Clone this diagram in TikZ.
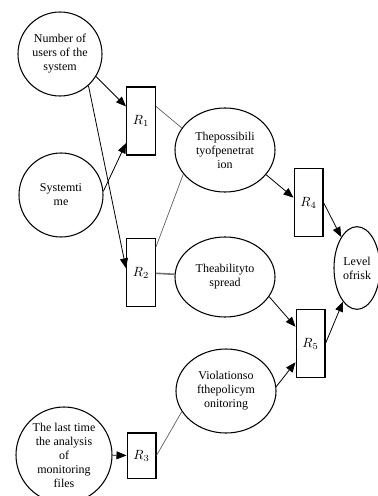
\documentclass[tikz,border=0pt]{standalone}
\usepackage{fontspec}
\setmainfont{Liberation Serif}
\usepackage{tikz}
\usetikzlibrary{arrows.meta, calc, shapes.geometric}

\begin{document}
\begin{tikzpicture}[
    x=0.75pt, y=-0.75pt,
    factor/.style={
        draw,
        circle,
        line width=0.8pt,
        inner sep=0pt,
        minimum size=63pt,
        align=center,
        font=\fontsize{9}{10.5}\selectfont
    },
    state/.style={
        draw,
        ellipse,
        line width=0.8pt,
        inner sep=0pt,
        minimum width=75pt,
        minimum height=63pt,
        align=center,
        font=\fontsize{9}{10.5}\selectfont
    },
    rule/.style={
        draw,
        line width=1pt,
        inner sep=0pt,
        minimum width=21.5pt,
        minimum height=51pt,
        font=\fontsize{10}{12}\selectfont
    },
    arrow/.style={-{Triangle[length=7.5pt, width=6pt]}, line width=0.6pt},
    link/.style={draw=black!65, line width=0.5pt}
]
\useasboundingbox (0,0) rectangle (378,496);

\node[factor] (users) at (60,54) {Number of\\users of the\\system};
\node[factor] (systime) at (61,195) {Systemti\\me};
\node[factor, minimum size=72pt] (lasttime) at (64,455) {The last time\\the analysis\\of\\monitoring\\files};

\node[rule] (r1) at (141,121) {$R_1$};
\node[rule] (r2) at (141,272.5) {$R_2$};
\node[rule, minimum height=34pt] (r3) at (141.5,455.5) {$R_3$};
\node[rule] (r4) at (308.5,202.5) {$R_4$};
\node[rule] (r5) at (310.5,343.5) {$R_5$};

\node[state] (penetration) at (225,150) {Thepossibili\\tyofpenetrat\\ion};
\node[state, minimum height=60pt] (spread) at (225,277) {Theabilityto\\spread};
\node[state] (violations) at (226,391) {Violationso\\fthepolicym\\onitoring};
\node[state, minimum width=34.5pt, minimum height=62pt] (risk) at (357,268) {Level\\ofrisk};

% inputs of the rules
\draw[arrow] (users.-32) -- ($(r1.north west)!0.29!(r1.south west)$);
\draw[arrow] (systime.5) -- ($(r1.north west)!0.82!(r1.south west)$);
\draw[arrow] (users.-48) -- ($(r2.north west)!0.44!(r2.south west)$);
\draw[arrow] (lasttime) -- (r3);

% rules to states
\draw[link] ($(r1.north east)!0.29!(r1.south east)$) -- (penetration.153);
\draw[link] ($(r2.north east)!0.13!(r2.south east)$) -- (penetration.210);
\draw[link, draw=black!55, line width=1.2pt] (r2) -- (spread);
\draw[link] (r3.east) -- (violations.205);

% states to risk
\draw[arrow] (penetration.-31) -- ($(r4.north west)!0.43!(r4.south west)$);
\draw[arrow] (spread.-24) -- ($(r5.north west)!0.26!(r5.south west)$);
\draw[arrow] (violations.5) -- ($(r5.north west)!0.77!(r5.south west)$);
\draw[arrow] (r4.east) -- (risk);
\draw[arrow] (r5.east) -- (risk);
\end{tikzpicture}
\end{document}
